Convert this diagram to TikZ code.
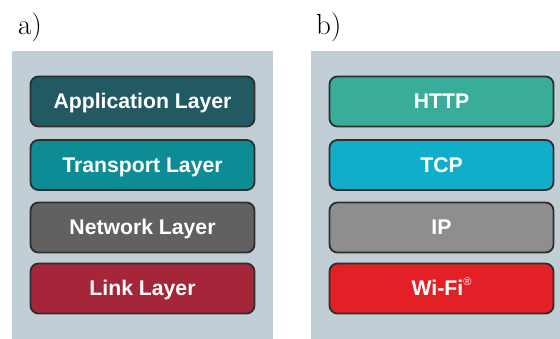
\documentclass[tikz,border=0pt]{standalone}
\usepackage{fontspec}
\newfontfamily\boxfont{Liberation Sans}[BoldFont={Liberation Sans Bold}]
\begin{document}
\begin{tikzpicture}[x=1pt,y=-1pt,
  panel/.style={fill=bgcol,draw=none},
  layer/.style={draw=edgecol,line width=1.8pt,rounded corners=8pt,text=white,
    font=\boxfont\bfseries\fontsize{21.2}{24}\selectfont,minimum width=224pt,minimum height=50pt,inner sep=0pt,
    text height=15pt,text depth=0pt},
  lab/.style={font=\fontsize{29}{32}\selectfont,anchor=base west,inner sep=0pt}]
\definecolor{bgcol}{HTML}{C1CED6}
\definecolor{edgecol}{HTML}{2E2E2E}
\definecolor{appc}{HTML}{225A64}
\definecolor{trc}{HTML}{0E8C96}
\definecolor{netc}{HTML}{636062}
\definecolor{linkc}{HTML}{A52638}
\definecolor{httpc}{HTML}{38AD9A}
\definecolor{tcpc}{HTML}{10AECB}
\definecolor{ipc}{HTML}{908D8E}
\definecolor{wific}{HTML}{E32026}
\useasboundingbox (0,0) rectangle (560,339);
\fill[panel] (12,51) rectangle (273,339);
\fill[panel] (311,51) rectangle (560,339);
\node[lab] (la) at (18,35) {a)};
\node[lab] (lb) at (316,35) {b)};
\node[layer,fill=appc] (app) at (142.5,101.5) {Application Layer};
\node[layer,fill=trc] (tr) at (142.5,165) {Transport Layer};
\node[layer,fill=netc] (net) at (142.5,227.5) {Network Layer};
\node[layer,fill=linkc] (link) at (142.5,288.5) {Link Layer};
\node[layer,fill=httpc] (http) at (441.5,101.5) {HTTP};
\node[layer,fill=tcpc] (tcp) at (441.5,165) {TCP};
\node[layer,fill=ipc] (ip) at (441.5,227.5) {IP};
\node[layer,fill=wific] (wifi) at (441.5,288.5) {Wi-Fi\raisebox{0.5em}{\fontsize{11}{11}\selectfont\mdseries ®}};
\end{tikzpicture}
\end{document}
